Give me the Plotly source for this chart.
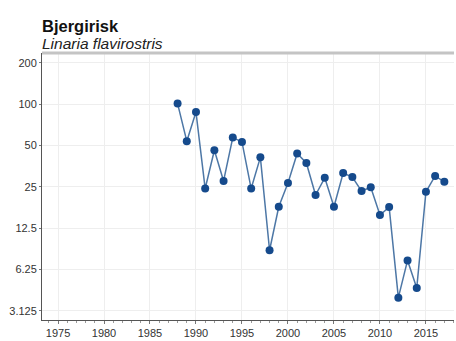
import math
import plotly.graph_objects as go

years = list(range(1988, 2018))
index_values = [101, 53.8, 87.6, 24.3, 46.2, 27.6, 57.1, 53.1, 24.3, 41.0,
                8.63, 17.9, 26.7, 43.8, 37.3, 21.8, 29.1, 17.9, 31.5, 29.5,
                23.3, 24.8, 15.6, 17.8, 3.9, 7.28, 4.58, 23.0, 30.0, 27.2]

y_tickvals = [3.125, 6.25, 12.5, 25, 50, 100, 200]
y_ticktext = ["3.125", "6.25", "12.5", "25", "50", "100", "200"]
x_tickvals = [1975, 1980, 1985, 1990, 1995, 2000, 2005, 2010, 2015]

title = "Bjergirisk"
subtitle = "Linaria flavirostris"

fig = go.Figure()
fig.add_trace(go.Scatter(
    x=years, y=index_values, mode="lines+markers",
    line=dict(color="#4d77a6", width=1.5),
    marker=dict(color="#154a8c", size=8),
    showlegend=False,
))

fig.update_layout(
    width=456, height=341,
    margin=dict(l=42, r=2, t=53, b=18),
    paper_bgcolor="white", plot_bgcolor="white",
    font=dict(family="Liberation Sans, Arial, sans-serif", color="#333333", size=11),
    xaxis=dict(
        range=[1973.26, 2018.05], tickvals=x_tickvals, showgrid=True,
        gridcolor="#eeeeee", gridwidth=1, zeroline=False,
        showline=True, linecolor="#555555", linewidth=1,
        ticks="outside", ticklen=3, tickcolor="#777777",
        minor=dict(dtick=1, ticks="outside", ticklen=2, tickcolor="#999999", showgrid=False),
        tickfont=dict(size=11, color="#333333"),
    ),
    yaxis=dict(
        type="log", range=[math.log10(2.68), math.log10(236)],
        tickvals=y_tickvals, ticktext=y_ticktext, showgrid=True,
        gridcolor="#eeeeee", gridwidth=1, zeroline=False,
        showline=True, linecolor="#555555", linewidth=1,
        ticks="outside", ticklen=2, tickcolor="#777777",
        tickfont=dict(size=11, color="#333333"),
    ),
    shapes=[dict(type="line", xref="paper", yref="paper", x0=0, x1=1, y0=1, y1=1,
                 line=dict(color="#c4c4c4", width=3))],
    annotations=[
        dict(text="<b>" + title + "</b>", xref="paper", yref="paper", x=0, y=1,
             xanchor="left", yanchor="middle", yshift=27, xshift=-2, showarrow=False,
             font=dict(size=16.5, color="#111111")),
        dict(text="<i>" + subtitle + "</i>", xref="paper", yref="paper", x=0, y=1,
             xanchor="left", yanchor="middle", yshift=10, xshift=-2, showarrow=False,
             font=dict(size=15.5, color="#222222")),
    ],
)

fig.write_html("out.html", config={"displayModeBar": False},
               post_script="document.body.style.margin='0';document.body.style.padding='0';")
